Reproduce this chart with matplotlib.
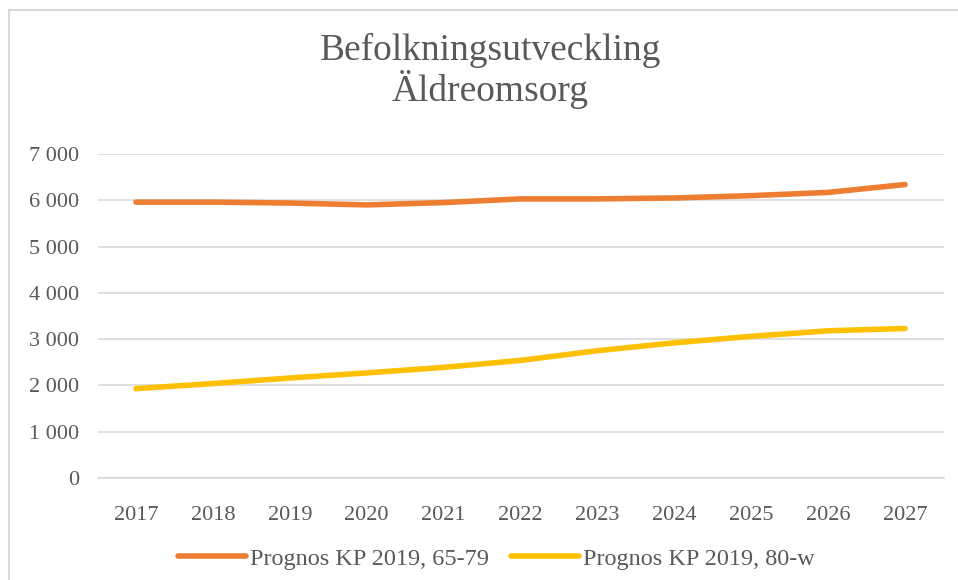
import matplotlib
matplotlib.use("Agg")
import matplotlib.pyplot as plt
from matplotlib.patches import Rectangle
from matplotlib.ticker import FuncFormatter

years = ["2017", "2018", "2019", "2020", "2021", "2022", "2023", "2024", "2025", "2026", "2027"]
age_65_79 = [5960, 5960, 5940, 5900, 5950, 6030, 6030, 6050, 6100, 6170, 6340]
age_80_w = [1930, 2040, 2160, 2270, 2390, 2540, 2750, 2920, 3060, 3180, 3230]
series_labels = ["Prognos KP 2019, 65-79", "Prognos KP 2019, 80-w"]

text_col = "#595959"
grid_col = "#d9d9d9"

plt.rcParams["font.family"] = ["Liberation Serif", "DejaVu Serif"]

fig = plt.figure(figsize=(9.58, 5.8), dpi=100)
ax = fig.add_axes([0.1018, 0.1759, 0.8831, 0.5586])

x = range(len(years))
ax.plot(x, age_65_79, color="#ED7D31", lw=4, solid_capstyle="round", label=series_labels[0])
ax.plot(x, age_80_w, color="#FFC000", lw=4, solid_capstyle="round", label=series_labels[1])

ax.set_xlim(-0.5, len(years) - 0.5)
ax.set_ylim(0, 7000)
ax.set_yticks(range(0, 7001, 1000))
ax.yaxis.set_major_formatter(FuncFormatter(lambda v, p: f"{int(v):,}".replace(",", " ")))
ax.set_xticks(list(x))
ax.set_xticklabels(years)
ax.grid(axis="y", color=grid_col, lw=1.2)
ax.set_axisbelow(True)
for s in ["top", "right", "left"]:
    ax.spines[s].set_visible(False)
ax.spines["bottom"].set_color(grid_col)
ax.spines["bottom"].set_linewidth(1.2)
ax.tick_params(axis="both", length=0, labelsize=16, labelcolor=text_col)
ax.tick_params(axis="y", pad=13)
ax.tick_params(axis="x", pad=20)

fig.text(0.512, 0.878, "Befolkningsutveckling\nÄldreomsorg", ha="center", va="center",
         fontsize=27, color=text_col, linespacing=1.05)

leg = fig.legend(loc="center", bbox_to_anchor=(0.518, 0.037), ncol=2, frameon=False,
                 fontsize=17.5, handlelength=2.8, handletextpad=0.17, columnspacing=0.9)
for t in leg.get_texts():
    t.set_color(text_col)

# chart border (cut at right and bottom edges)
fig.patches.append(Rectangle((9 / 958, -0.1), 1.2, 1 - 10 / 580 + 0.1, transform=fig.transFigure,
                             fill=False, edgecolor=grid_col, lw=1.5))

fig.savefig("out.png", dpi=100)
